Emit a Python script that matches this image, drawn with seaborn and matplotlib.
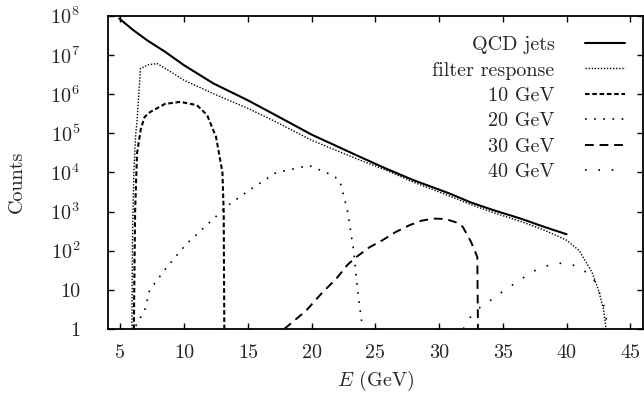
import numpy as np
import pandas as pd
import matplotlib
matplotlib.use("Agg")
import matplotlib.pyplot as plt
import seaborn as sns

# ---- data ----
qcd_E = [4.9, 6, 7.1, 8.5, 10, 12.3, 15, 17, 20, 23.5, 25.8, 28, 30.8, 32.5, 34.2,
         36.4, 38.2, 40]
qcd_N = [8.5e7, 4.3e7, 2.35e7, 1.2e7, 5.4e6, 1.86e6, 6.9e5, 3.1e5, 9.2e4, 2.75e4,
         1.26e4, 6.3e3, 2.9e3, 1.7e3, 1.1e3, 6.6e2, 4.1e2, 2.63e2]

filt_E = [5.9, 5.95, 6.05, 6.2, 6.3, 6.57, 7.2, 7.88, 9, 10, 12.3, 15, 17, 20, 23.5,
          25.8, 28, 30.8, 32.5, 34.2, 36.4, 38.2, 40, 41, 42, 42.5, 42.9, 43.1]
filt_N = [1, 3e2, 1e4, 1e5, 1.95e5, 4.5e6, 5.6e6, 6.0e6, 3.6e6, 2.24e6, 1.02e6,
          4.3e5, 2.1e5, 6.6e4, 2.24e4, 1.15e4, 5.6e3, 2.5e3, 1.5e3, 9.5e2, 5.6e2,
          3.4e2, 1.86e2, 1.0e2, 28, 10, 3.2, 1]

g10_E = [6.05, 6.15, 6.3, 6.6, 6.9, 7.35, 8.5, 9.7, 11, 11.8, 12.5, 13.0, 13.1, 13.15]
g10_N = [1, 1e3, 3e4, 1.3e5, 2.6e5, 3.5e5, 5.6e5, 6.3e5, 5.2e5, 2.9e5, 8e4, 1e4,
         1e3, 1]

g20_E = [6.2, 6.9, 7.3, 8.56, 10.1, 11.7, 13.4, 15.1, 17.2, 19.8, 21.6, 22.2,
         22.8, 23.3, 23.6, 24.0]
g20_N = [1.2, 3, 10, 35, 1.4e2, 4.3e2, 1.4e3, 3.5e3, 9.8e3, 1.5e4, 8.5e3, 6.3e3,
         1.1e3, 1e2, 10, 1]

g30_E = [17.85, 19.55, 20.78, 21.95, 22.8, 23.35, 24.5, 25.57, 26.6, 27.7, 28.6,
         29.5, 30.3, 30.8, 31.4, 31.85, 32.5, 33.0, 33.05]
g30_N = [1, 2.9, 8.1, 19.5, 43, 63, 120, 186, 300, 450, 580, 660, 650, 600, 520,
         410, 170, 69, 1]

g40_E = [31.9, 32.1, 32.76, 33.4, 34.07, 34.7, 36.0, 37.3, 38.9, 39.7, 40.5, 41.3,
         42.05, 42.4, 42.8, 43.1, 43.15]
g40_N = [1, 1.55, 2.5, 4.1, 5.5, 7.8, 15, 29, 46, 48, 43, 32, 21, 12, 5.5, 2.5, 1]

labels = ["QCD jets", "filter response", "10 GeV", "20 GeV", "30 GeV", "40 GeV"]
y_ticks = [1, 10, 1e2, 1e3, 1e4, 1e5, 1e6, 1e7, 1e8]
y_ticklabels = ["1", "10", r"$10^2$", r"$10^3$", r"$10^4$", r"$10^5$",
                r"$10^6$", r"$10^7$", r"$10^8$"]
x_ticks = [5, 10, 15, 20, 25, 30, 35, 40, 45]

# ---- style ----
sns.set_style("ticks")
plt.rcParams["font.family"] = ["cmr10", "DejaVu Serif"]
plt.rcParams["mathtext.fontset"] = "cm"
plt.rcParams["axes.unicode_minus"] = False
plt.rcParams["axes.formatter.use_mathtext"] = True
FS = 14.5

fig = plt.figure(figsize=(6.44, 3.95), dpi=100)
ax = fig.add_axes([107.7 / 644, 1 - 329 / 395, (643 - 107.7) / 644, (329 - 15.7) / 395])

series = [
    (qcd_E, qcd_N, "-", 1.5),
    (filt_E, filt_N, (0, (1, 1.2)), 1.0),
    (g10_E, g10_N, (0, (2.2, 1.3)), 1.5),
    (g20_E, g20_N, (0, (1, 4.5)), 1.2),
    (g30_E, g30_N, (0, (4.5, 3)), 1.4),
    (g40_E, g40_N, (0, (1, 7)), 1.2),
]
for (E, N, ls, lw), lab in zip(series, labels):
    df = pd.DataFrame({"E": E, "N": N})
    sns.lineplot(data=df, x="E", y="N", ax=ax, color="black", linestyle=ls,
                 linewidth=lw, label=lab, sort=False, estimator=None)

ax.set_yscale("log")
ax.set_xlim(4, 46)
ax.set_ylim(1, 1e8)
ax.set_yticks(y_ticks)
ax.set_yticklabels(y_ticklabels)
ax.set_xticks(x_ticks)
ax.set_xticklabels([str(v) for v in x_ticks])
ax.minorticks_off()
ax.tick_params(axis="both", which="major", direction="in", top=True, right=True,
               length=4, width=1, labelsize=FS, color="black")
ax.tick_params(axis="y", pad=20)
ax.tick_params(axis="x", pad=11)
for s in ax.spines.values():
    s.set_linewidth(1.3)
    s.set_color("black")

ax.set_xlabel(r"$E$ (GeV)", fontsize=FS)
ax.set_ylabel("Counts", fontsize=FS)
ax.xaxis.set_label_coords(0.5, -0.128)
ax.yaxis.set_label_coords(-0.152, 0.469)

leg = ax.legend(loc="upper right", bbox_to_anchor=(0.9664, 0.935), markerfirst=False,
                frameon=False, fontsize=FS, handlelength=2.0, handletextpad=1.5,
                labelspacing=0.36, borderaxespad=0, borderpad=0)

fig.savefig("out.png", dpi=100)
